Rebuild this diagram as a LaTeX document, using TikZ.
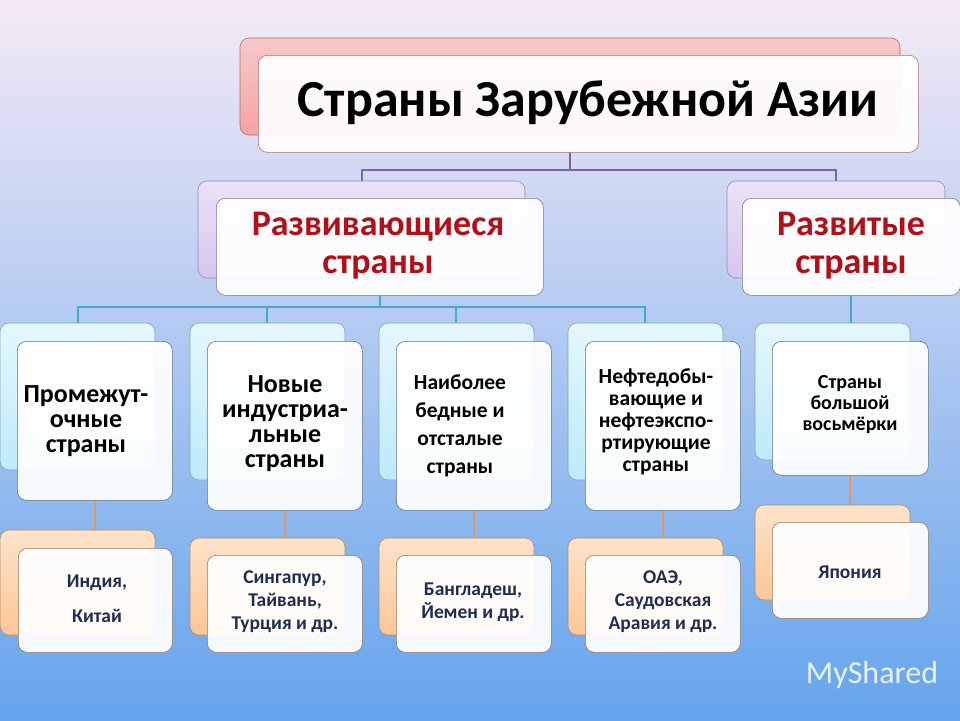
\documentclass[tikz,border=0pt]{standalone}
\usepackage{fontspec}
\setmainfont{Carlito}
\begin{document}
\begin{tikzpicture}[x=1pt,y=-1pt,
  back/.style={rounded corners=9pt,draw=#1!70!black,line width=0.6pt},
  front/.style={rounded corners=9pt,fill=white,fill opacity=0.93,draw=#1,line width=0.6pt,text opacity=1},
  lbl/.style={align=center,font=\bfseries,text=black},
  leaf/.style={align=center,font=\fontsize{19.5}{23}\selectfont\bfseries,text=navy},
  con/.style={line width=2.4pt}]
\definecolor{navy}{HTML}{1F2D50}
\definecolor{tred}{HTML}{F4A3A3}
\definecolor{lav}{HTML}{D6C6F0}
\definecolor{cy}{HTML}{BDEBFA}
\definecolor{org}{HTML}{FBC796}
\definecolor{dred}{HTML}{B01018}
\useasboundingbox (0,0) rectangle (960,720);
\shade[top color={rgb,255:red,244;green,234;blue,246}, bottom color={rgb,255:red,100;green,164;blue,236}] (0,0) rectangle (960,720);
% connectors
\draw[con,draw={rgb,255:red,128;green,96;blue,170}] (570,152) -- (570,170) -- (362,170) -- (362,181) (570,170) -- (836,170) -- (836,181);
\draw[con,draw={rgb,255:red,70;green,170;blue,200}] (380,295) -- (380,307) (78,323) -- (78,307) -- (645,307) -- (645,323) (267,307) -- (267,323) (456,307) -- (456,323) (851,295) -- (851,323);
\draw[con,draw={rgb,255:red,225;green,150;blue,100}] (95,500) -- (95,530) (285,510) -- (285,538) (474,510) -- (474,538) (663,510) -- (663,538) (850,475) -- (850,505);
% title
\path[back=tred,top color=tred!60,bottom color=tred] (240,38) rectangle (900,135);
\node[front=tred!70!black,minimum width=660,minimum height=97,anchor=north west] (title) at (258,55) {};
\node[font=\fontsize{52}{56}\selectfont\bfseries] (tt) at (588,103) {Страны Зарубежной Азии};
% level1
\path[back=lav,top color=lav!50,bottom color=lav] (198,181) rectangle (525,278);
\node[front=lav!60!black,minimum width=327,minimum height=97,anchor=north west] (dev) at (216,198) {};
\node[lbl,text=dred,font=\fontsize{36}{38}\selectfont\bfseries] (devt) at (378,246) {Развивающиеся\\страны};
\path[back=lav,top color=lav!50,bottom color=lav] (727,181) rectangle (945,278);
\node[front=lav!60!black,minimum width=218,minimum height=97,anchor=north west] (dvd) at (742,198) {};
\node[lbl,text=dred,font=\fontsize{36}{38}\selectfont\bfseries] (dvdt) at (851,246) {Развитые\\страны};
% level2
\foreach \x/\h/\n in {0/159/a,190/169/b,379/169/c,568/169/d}{
  \path[back=cy,top color=cy!40,bottom color=cy] (\x,323) rectangle ++(155,\h-12);
  \node[front=cy!50!black,minimum width=155,minimum height=\h,anchor=north west] (\n) at (\x+17,341) {};
}
\path[back=cy,top color=cy!40,bottom color=cy] (755,323) rectangle (910,460);
\node[front=cy!50!black,minimum width=156,minimum height=134,anchor=north west] (e) at (772,341) {};
\node[lbl,font=\fontsize{26}{25}\selectfont\bfseries] at (86,421) {Промежут-\\очные\\страны};
\node[lbl,font=\fontsize{26}{25}\selectfont\bfseries] at (285,424) {Новые\\индустриа-\\льные\\страны};
\node[lbl,font=\fontsize{21.5}{28}\selectfont\bfseries] at (460,426) {Наиболее\\бедные и\\отсталые\\страны};
\node[lbl,font=\fontsize{21.5}{22}\selectfont\bfseries] at (656,422) {Нефтедобы-\\вающие и\\нефтеэкспо-\\ртирующие\\страны};
\node[lbl,font=\fontsize{20}{21}\selectfont\bfseries] at (850,405) {Страны\\большой\\восьмёрки};
% level3
\path[back=org,top color=org!50,bottom color=org] (0,530) rectangle (155,635);
\node[front=org!60!black,minimum width=154,minimum height=104,anchor=north west] (a3) at (18,548) {};
\foreach \x/\n in {190/b3,379/c3,568/d3}{
  \path[back=org,top color=org!50,bottom color=org] (\x,538) rectangle ++(155,97);
  \node[front=org!60!black,minimum width=155,minimum height=97,anchor=north west] (\n) at (\x+17,555) {};
}
\path[back=org,top color=org!50,bottom color=org] (755,505) rectangle (910,600);
\node[front=org!60!black,minimum width=156,minimum height=96,anchor=north west] (e3) at (772,522) {};
\node[leaf,font=\fontsize{19.5}{35}\selectfont\bfseries] at (97,599) {Индия,\\Китай};
\node[leaf] at (285,602) {Сингапур,\\Тайвань,\\Турция и др.};
\node[leaf] at (473,602) {Бангладеш,\\Йемен и др.};
\node[leaf] at (663,602) {ОАЭ,\\Саудовская\\Аравия и др.};
\node[leaf] at (850,572) {Япония};
% watermark
\node[text=white,text opacity=0.85,font=\fontsize{32}{32}\selectfont] (wm) at (872,675) {MyShared};
\end{tikzpicture}
\end{document}
